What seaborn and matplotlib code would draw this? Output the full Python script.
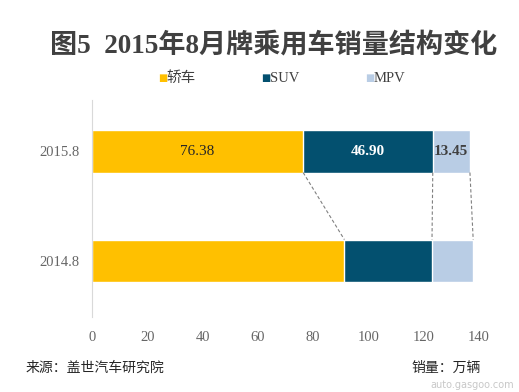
import numpy as np
import pandas as pd
import matplotlib
matplotlib.use("Agg")
import matplotlib.pyplot as plt
import seaborn as sns

# data
periods = ["2015.8", "2014.8"]
segments = ["轿车", "SUV", "MPV"]
sedan = [76.38, 91.30]
suv = [46.90, 31.70]
mpv = [13.45, 14.90]
seg_colors = ["#FFC000", "#03506F", "#B9CDE5"]
x_ticks = [0, 20, 40, 60, 80, 100, 120, 140]

sns.set_theme(style="white")
plt.rcParams["font.family"] = ["Liberation Serif", "Noto Sans CJK SC"]

df = pd.DataFrame({"period": periods, "轿车": sedan, "SUV": suv, "MPV": mpv})
df["c1"] = df["轿车"]
df["c2"] = df["c1"] + df["SUV"]
df["c3"] = df["c2"] + df["MPV"]

fig = plt.figure(figsize=(5.19, 3.92), dpi=100)
ax = fig.add_axes([0.1773, 0.191, 0.7456, 0.554])

bar_w = 0.39
# stacked bars: draw longest cumulative first
for col, color in zip(["c3", "c2", "c1"], seg_colors[::-1]):
    sns.barplot(data=df, x=col, y="period", order=periods, orient="h",
                color=color, width=bar_w, saturation=1, ax=ax)

ax.set_xlim(0, 140)
ax.set_ylim(1.51, -0.465)
ax.set_xticks(x_ticks)
ax.set_xlabel("")
ax.set_ylabel("")
ax.tick_params(axis="both", length=0, labelsize=10.5, labelcolor="#666666")
ax.tick_params(axis="x", pad=10)
ax.tick_params(axis="y", pad=9)
for s in ["top", "right", "bottom"]:
    ax.spines[s].set_visible(False)
ax.spines["left"].set_color("#D9D9D9")
ax.spines["left"].set_linewidth(0.8)

# value labels on the 2015.8 bar
top = df.iloc[0]
ax.text(top["c1"] / 2, 0, f"{top['轿车']:.2f}", ha="center", va="center",
        fontsize=11, color="#262626")
ax.text(top["c1"] + top["SUV"] / 2, 0, f"{top['SUV']:.2f}", ha="center",
        va="center", fontsize=11, color="white", fontweight="bold")
ax.text(top["c2"] + top["MPV"] / 2, 0, f"{top['MPV']:.2f}", ha="center",
        va="center", fontsize=11, color="#404040", fontweight="bold")

# dashed connectors between segment boundaries
for col in ["c1", "c2", "c3"]:
    ax.plot([df[col][0], df[col][1]], [bar_w / 2, 1 - bar_w / 2],
            ls=(0, (3, 2)), color="#808080", lw=0.8)

# legend
for i, (name, color) in enumerate(zip(segments, seg_colors)):
    lx = 0.305 + i * 0.199
    fig.text(lx, 0.800, "■", fontsize=7, color=color, ha="left", va="center",
             family=["DejaVu Sans"])
    fig.text(lx + 0.016, 0.801, name, fontsize=10.5, color="#404040",
             ha="left", va="center")

fig.text(0.527, 0.885, "图5  2015年8月牌乘用车销量结构变化", ha="center",
         va="center", fontsize=19.5, fontweight="bold", color="#404040",
         family=["Liberation Serif", "Noto Sans CJK SC"])

fig.text(0.05, 0.062, "来源：盖世汽车研究院", fontsize=10, style="italic",
         color="#262626", ha="left", va="center",
         family=["Noto Sans CJK SC"])
fig.text(0.793, 0.062, "销量：万辆", fontsize=10, color="#262626",
         ha="left", va="center", family=["Noto Sans CJK SC"])
fig.text(0.99, 0.018, "auto.gasgoo.com", fontsize=7, color="#C8C8C8",
         ha="right", va="center", family=["DejaVu Sans"])

fig.savefig("out.png", dpi=100, facecolor="white")
